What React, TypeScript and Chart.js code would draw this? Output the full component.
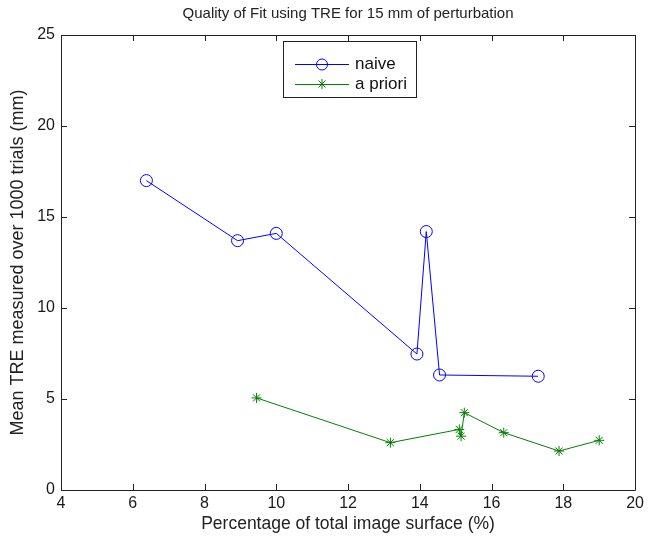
import React, { useEffect, useRef } from "react";
import { Chart, registerables } from "chart.js";

Chart.register(...registerables);

const naiveX = [6.38, 8.92, 10.0, 13.92, 14.18, 14.55, 17.3];
const naiveY = [17.0, 13.7, 14.1, 7.47, 14.2, 6.32, 6.25];
const aprioriX = [9.45, 13.18, 15.1, 15.15, 15.24, 16.34, 17.88, 19.0];
const aprioriY = [5.06, 2.6, 3.33, 2.96, 4.25, 3.15, 2.14, 2.73];
const xTicks = [4, 6, 8, 10, 12, 14, 16, 18, 20];
const yTicks = [0, 5, 10, 15, 20, 25];
const titleText = "Quality of Fit using TRE for 15 mm of perturbation";
const xLabel = "Percentage of total image surface (%)";
const yLabel = "Mean TRE measured over 1000 trials (mm)";
const seriesNames = ["naive", "a priori"];
const BLUE = "#0000FF";
const GREEN = "#008000";
const FONT = "'Liberation Sans', Arial, sans-serif";

const decorPlugin = {
  id: "decor",
  afterDraw(chart: any) {
    const ctx = chart.ctx;
    const { left, right, top, bottom } = chart.chartArea;
    const xs = chart.scales.x;
    const ys = chart.scales.y;
    ctx.save();
    // frame
    ctx.strokeStyle = "#222";
    ctx.lineWidth = 1;
    ctx.beginPath();
    ctx.rect(Math.round(left) + 0.5, Math.round(top) + 0.5, Math.round(right - left), Math.round(bottom - top));
    ctx.stroke();
    // ticks inward
    const tl = 6;
    ctx.beginPath();
    xTicks.forEach((v) => {
      const px = Math.round(xs.getPixelForValue(v)) + 0.5;
      ctx.moveTo(px, bottom);
      ctx.lineTo(px, bottom - tl);
      ctx.moveTo(px, top);
      ctx.lineTo(px, top + tl);
    });
    yTicks.forEach((v) => {
      const py = Math.round(ys.getPixelForValue(v)) + 0.5;
      ctx.moveTo(left, py);
      ctx.lineTo(left + tl, py);
      ctx.moveTo(right, py);
      ctx.lineTo(right - tl, py);
    });
    ctx.stroke();
    // texts
    ctx.fillStyle = "#222";
    ctx.font = `15px ${FONT}`;
    ctx.textAlign = "center";
    ctx.textBaseline = "middle";
    ctx.fillText(titleText, (left + right) / 2, 14);
    ctx.font = `17.5px ${FONT}`;
    ctx.fillText(xLabel, (left + right) / 2, 524);
    ctx.save();
    ctx.translate(18, (top + bottom) / 2);
    ctx.rotate(-Math.PI / 2);
    ctx.font = `18px ${FONT}`;
    ctx.fillText(yLabel, 0, 0);
    ctx.restore();
    // legend
    const lx = 283, ly = 41, lw = 133, lh = 56;
    ctx.fillStyle = "#fff";
    ctx.fillRect(lx, ly, lw, lh);
    ctx.strokeStyle = "#222";
    ctx.strokeRect(lx + 0.5, ly + 0.5, lw, lh);
    const rows = [
      { y: 64, color: BLUE, name: seriesNames[0], marker: "circle" },
      { y: 84, color: GREEN, name: seriesNames[1], marker: "star" },
    ];
    rows.forEach((r) => {
      ctx.strokeStyle = r.color;
      ctx.lineWidth = 1;
      ctx.beginPath();
      ctx.moveTo(295, r.y + 0.5);
      ctx.lineTo(349, r.y + 0.5);
      ctx.stroke();
      if (r.marker === "circle") {
        ctx.beginPath();
        ctx.arc(322, r.y + 0.5, 5.5, 0, Math.PI * 2);
        ctx.stroke();
      } else {
        const s = 5;
        ctx.beginPath();
        ctx.moveTo(322 - s, r.y + 0.5);
        ctx.lineTo(322 + s, r.y + 0.5);
        ctx.moveTo(322, r.y - s);
        ctx.lineTo(322, r.y + s);
        const d = s * 0.7;
        ctx.moveTo(322 - d, r.y - d);
        ctx.lineTo(322 + d, r.y + d);
        ctx.moveTo(322 - d, r.y + d);
        ctx.lineTo(322 + d, r.y - d);
        ctx.stroke();
      }
      ctx.fillStyle = "#111";
      ctx.textAlign = "left";
      ctx.font = `17px ${FONT}`;
      ctx.fillText(r.name, 355, r.y);
    });
    ctx.restore();
  },
};

export default function App() {
  const ref = useRef<HTMLCanvasElement | null>(null);
  useEffect(() => {
    if (!ref.current) return;
    const chart = new Chart(ref.current, {
      type: "scatter",
      data: {
        datasets: [
          {
            label: seriesNames[0],
            data: naiveX.map((x, i) => ({ x, y: naiveY[i] })),
            showLine: true,
            borderColor: BLUE,
            backgroundColor: "rgba(0,0,0,0)",
            borderWidth: 1,
            pointStyle: "circle",
            pointRadius: 6,
            pointBorderColor: BLUE,
            pointBorderWidth: 1,
          },
          {
            label: seriesNames[1],
            data: aprioriX.map((x, i) => ({ x, y: aprioriY[i] })),
            showLine: true,
            borderColor: GREEN,
            backgroundColor: "rgba(0,0,0,0)",
            borderWidth: 1,
            pointStyle: "star",
            pointRadius: 5,
            pointBorderColor: GREEN,
            pointBorderWidth: 1,
          },
        ],
      },
      options: {
        responsive: false,
        animation: false,
        layout: { padding: { top: 35, right: 10, left: 0, bottom: 0 } },
        plugins: { legend: { display: false }, title: { display: false }, tooltip: { enabled: false } },
        scales: {
          x: {
            type: "linear",
            min: 4,
            max: 20,
            afterBuildTicks: (s: any) => {
              s.ticks = xTicks.map((v) => ({ value: v }));
            },
            afterFit: (s: any) => {
              s.height = 50;
            },
            grid: { display: false, drawTicks: false, tickLength: 0 },
            border: { display: false },
            ticks: { padding: 4, color: "#1a1a1a", font: { family: FONT, size: 16 }, maxRotation: 0 },
          },
          y: {
            type: "linear",
            min: 0,
            max: 25,
            afterBuildTicks: (s: any) => {
              s.ticks = yTicks.map((v) => ({ value: v }));
            },
            afterFit: (s: any) => {
              s.width = 61;
            },
            grid: { display: false, drawTicks: false, tickLength: 0 },
            border: { display: false },
            ticks: { padding: 6, color: "#1a1a1a", font: { family: FONT, size: 16 } },
          },
        },
      },
      plugins: [decorPlugin],
    });
    return () => chart.destroy();
  }, []);
  return (
    <div style={{ position: "absolute", left: 0, top: 0, width: 648, height: 540, background: "#fff" }}>
      <canvas ref={ref} width={648} height={540} />
    </div>
  );
}
